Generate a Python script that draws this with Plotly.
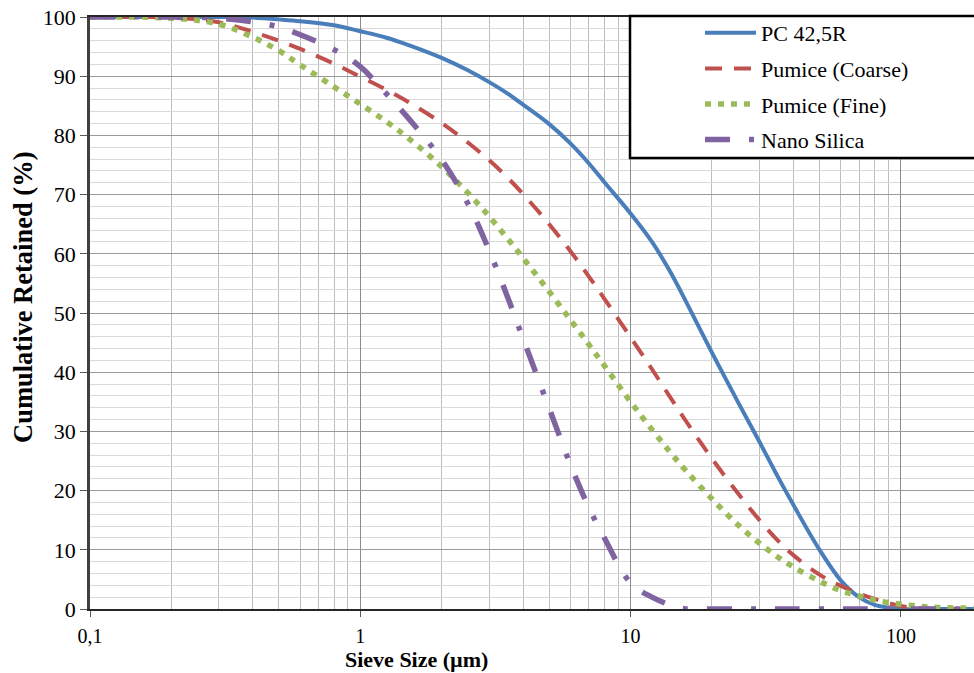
import plotly.graph_objects as go

# Sieve sizes (µm)
sizes = [0.1, 0.2, 0.3, 0.4, 0.5, 0.6, 0.8, 1, 1.25, 1.5, 2, 2.5, 3, 3.5, 4, 5, 6, 7, 8,
         10, 12, 14, 16, 20, 25, 30, 35, 40, 50, 60, 70, 80, 100, 125, 150, 190]

# Cumulative retained (%)
pc_425r = [100, 100, 100, 99.9, 99.6, 99.3, 98.6, 97.6, 96.5, 95.3, 93.1, 91.0, 89.0, 87.1, 85.2,
           81.9, 78.6, 75.3, 72.1, 66.8, 62.0, 57.0, 52.0, 43.3, 34.9, 28.2, 22.4, 17.6, 10.0,
           4.8, 2.0, 0.7, 0, 0, 0, 0]
pumice_coarse = [100, 99.9, 99.1, 97.5, 96.0, 94.6, 92.1, 89.9, 87.7, 85.7, 82.1, 78.8, 75.8, 72.9,
                 70.1, 65.0, 60.4, 56.2, 52.4, 45.9, 40.5, 35.8, 31.8, 25.4, 19.5, 15.0, 11.6, 9.1,
                 5.8, 3.9, 2.6, 1.7, 0.5, 0.1, 0, 0]
pumice_fine = [100, 99.8, 98.8, 96.6, 94.3, 91.9, 88.2, 85.3, 82.3, 79.6, 74.7, 70.3, 66.3, 62.6,
               59.3, 53.6, 48.8, 44.7, 41.1, 35.0, 30.3, 26.5, 23.4, 18.6, 14.2, 11.1, 8.8, 7.1,
               4.7, 3.1, 2.2, 1.5, 0.8, 0.35, 0.2, 0.1]
nano_silica = [100, 100, 99.8, 99.2, 98.3, 97.0, 94.5, 91.6, 87.0, 83.0, 75.9, 68.5, 60.5, 52.8,
               45.7, 33.9, 24.3, 17.2, 12.0, 4.4, 2.0, 0.7, 0, 0, 0, 0, 0, 0, 0, 0, 0, 0, 0, 0, 0, 0]

series_names = ["PC 42,5R", "Pumice (Coarse)", "Pumice (Fine)", "Nano Silica"]
series_values = [pc_425r, pumice_coarse, pumice_fine, nano_silica]
colors = ["#4A7EBB", "#C0504D", "#9BBB59", "#8064A2"]
widths = [4, 4, 5.5, 5.5]
dashes = ["solid", "17px,12px", "6px,7px", "25px,19px,5px,19px"]

x_tickvals = [0.1, 1, 10, 100]
x_ticktext = ["0,1", "1", "10", "100"]

FONT = "Liberation Serif"

fig = go.Figure()
for name, vals, c, w, d in zip(series_names, series_values, colors, widths, dashes):
    fig.add_trace(go.Scatter(
        x=sizes, y=vals, name=name, mode="lines", legendgroup=name,
        line=dict(color=c, width=w, dash=d, shape="spline", smoothing=1.0),
    ))

W, H = 974, 673
ml, mr, mt, mb = 90, 0, 17, 64
pw, ph = W - ml - mr, H - mt - mb

def px_x(px):
    return (px - ml) / pw

def px_y(py):
    return (H - mb - py) / ph

fig.update_layout(
    width=W, height=H,
    margin=dict(l=ml, r=mr, t=mt, b=mb, autoexpand=False),
    paper_bgcolor="white", plot_bgcolor="white",
    font=dict(family=FONT, color="black", size=21),
    showlegend=True,
    legend=dict(
        x=px_x(700), y=px_y(12), xanchor="left", yanchor="top",
        bgcolor="rgba(0,0,0,0)", borderwidth=0,
        font=dict(family=FONT, size=22, color="black"),
        itemwidth=51, tracegroupgap=4,
    ),
    xaxis=dict(
        type="log", range=[-1, 2.2705],
        tickmode="array", tickvals=x_tickvals, ticktext=x_ticktext,
        ticks="outside", ticklen=6, tickcolor="#595959", tickwidth=1,
        showline=True, linecolor="#262626", linewidth=2, mirror=True,
        showgrid=True, gridcolor="#8c8c8c", gridwidth=1,
        minor=dict(tickmode="linear", dtick="D1", showgrid=True, gridcolor="#bdbdbd",
                   gridwidth=1, ticks=""),
        tickfont=dict(family=FONT, size=20, color="black"),
        zeroline=False, ticklabelstandoff=2,
    ),
    yaxis=dict(
        range=[0, 100], tickmode="linear", tick0=0, dtick=10,
        ticks="outside", ticklen=7, tickcolor="#595959", tickwidth=1,
        showline=True, linecolor="#404040", linewidth=2.5,
        showgrid=True, gridcolor="#9a9a9a", gridwidth=1,
        minor=dict(tickmode="linear", tick0=0, dtick=2, showgrid=True, gridcolor="#d9d9d9",
                   gridwidth=1, ticks=""),
        tickfont=dict(family=FONT, size=22, color="black"),
        zeroline=False,
    ),
    shapes=[dict(
        type="rect", xref="paper", yref="paper",
        x0=px_x(630), x1=1.02, y0=px_y(158), y1=px_y(16),
        fillcolor="white", line=dict(color="black", width=2.5), layer="above",
    )],
    annotations=[
        dict(text="<b>Cumulative Retained (%)</b>", xref="paper", yref="paper",
             x=px_x(23), y=px_y(298), xanchor="center", yanchor="middle",
             textangle=-90, showarrow=False, font=dict(family=FONT, size=26.5, color="black")),
        dict(text="<b>Sieve Size (µm)</b>", xref="paper", yref="paper",
             x=px_x(416), y=px_y(659), xanchor="center", yanchor="middle",
             showarrow=False, font=dict(family=FONT, size=22, color="black")),
    ],
)

fig.write_html("out.html")
